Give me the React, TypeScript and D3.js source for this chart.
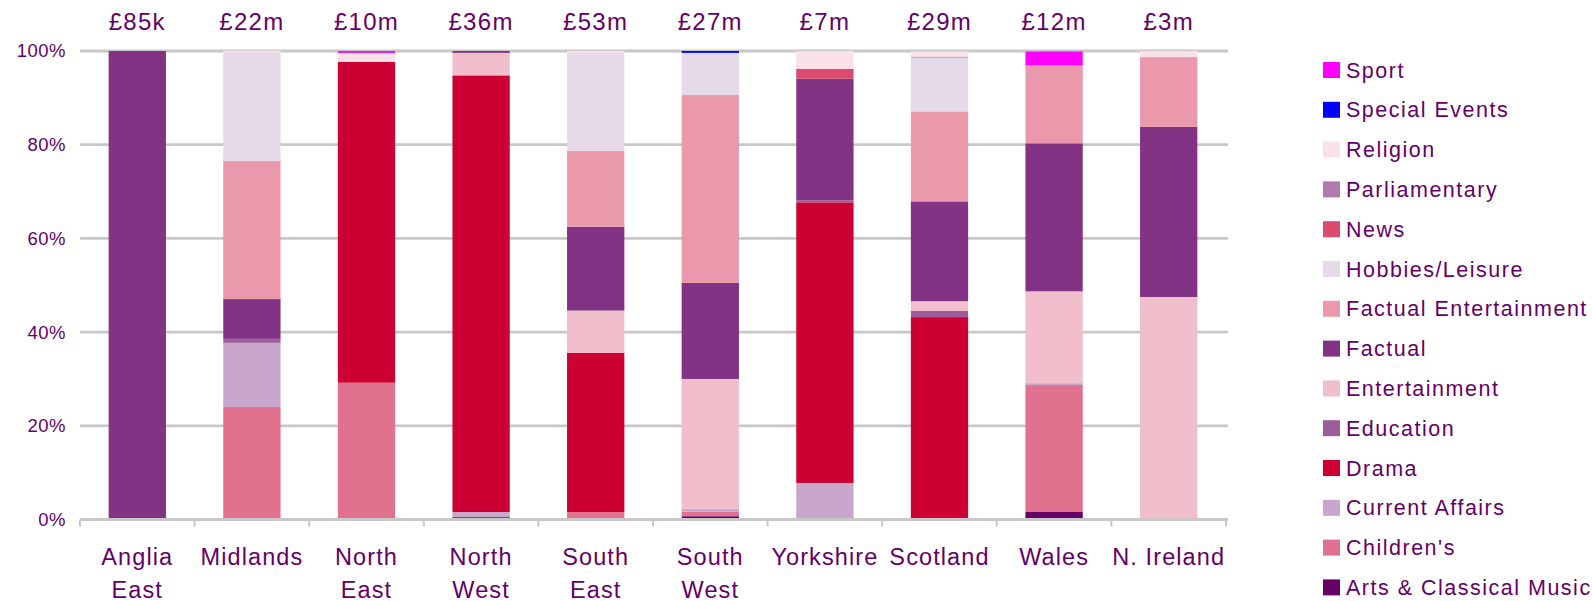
import React from 'react';
import * as d3 from 'd3';

// regions along the x axis, with their spend totals shown above each bar
const regions = ['Anglia East', 'Midlands', 'North East', 'North West', 'South East', 'South West', 'Yorkshire', 'Scotland', 'Wales', 'N. Ireland'];
const regionLines = [['Anglia', 'East'], ['Midlands'], ['North', 'East'], ['North', 'West'], ['South', 'East'], ['South', 'West'], ['Yorkshire'], ['Scotland'], ['Wales'], ['N. Ireland']];
const totals = ['£85k', '£22m', '£10m', '£36m', '£53m', '£27m', '£7m', '£29m', '£12m', '£3m'];

// genres, bottom of the stack first
const genres = ['Arts & Classical Music', "Children's", 'Current Affairs', 'Drama', 'Education', 'Entertainment', 'Factual', 'Factual Entertainment', 'Hobbies/Leisure', 'News', 'Parliamentary', 'Religion', 'Special Events', 'Sport'];
const genreColors = ['#660066', '#E0718F', '#C9A6CB', '#CC0033', '#9C5C9C', '#F0BFCB', '#833383', '#E999AB', '#E6D9E8', '#DC4A6E', '#B07CB0', '#F9E1E8', '#0000FF', '#FF00FF'];

// share of spend (%) per region, one array per genre
const arts = [0, 0, 0, 0.5, 0, 0.7, 0, 0, 1.6, 0];
const childrens = [0, 24.0, 29.2, 0, 1.6, 1.0, 0, 0, 27.1, 0];
const currentAffairs = [0, 13.7, 0, 1.1, 0, 0.6, 7.8, 0, 0.4, 0];
const drama = [0, 0, 68.5, 93.2, 34.0, 0, 59.9, 43.2, 0, 0];
const education = [0, 0.85, 0, 0, 0, 0, 0.4, 1.3, 0, 0];
const entertainment = [0, 0, 0, 4.8, 9.0, 27.7, 0, 2.1, 19.6, 47.5];
const factual = [100, 8.5, 0, 0.4, 17.9, 20.5, 26.0, 21.3, 31.6, 36.3];
const factualEnt = [0, 29.5, 0, 0, 16.2, 40.1, 0, 19.2, 16.6, 14.9];
const hobbies = [0, 23.1, 0, 0, 20.9, 9.0, 0, 11.5, 0, 0];
const news = [0, 0, 0, 0, 0, 0, 2.1, 0, 0, 0];
const parliamentary = [0, 0, 0, 0, 0, 0, 0, 0.2, 0, 0];
const religion = [0, 0.4, 1.9, 0, 0.4, 0, 3.8, 1.1, 0, 1.3];
const specialEvents = [0, 0, 0, 0, 0, 0.4, 0, 0, 0, 0];
const sport = [0, 0, 0.4, 0, 0, 0, 0, 0, 3.0, 0];

const seriesValues = [arts, childrens, currentAffairs, drama, education, entertainment, factual, factualEnt, hobbies, news, parliamentary, religion, specialEvents, sport];

const yTicks = [0, 20, 40, 60, 80, 100];

const width = 1592;
const height = 601;
const textColor = '#660066';
const gridColor = '#C8C8C8';
const font = "Arial, 'Liberation Sans', sans-serif";

const App = () => {
    const rows = regions.map((r, i) => {
        const row: any = { region: r };
        genres.forEach((g, k) => { row[g] = seriesValues[k][i]; });
        return row;
    });
    const stacked = d3.stack().keys(genres)(rows);

    const x = d3.scaleBand().domain(regions).range([80, 1226]).paddingInner(0.5).paddingOuter(0.25);
    const y = d3.scaleLinear().domain([0, 100]).range([519.5, 51]);
    const step = x.step();
    const boundaries = d3.range(regions.length + 1).map(i => 80 + i * step);

    const legendItems = genres.map((g, k) => ({ g, c: genreColors[k] })).reverse();

    return (
        <svg width={width} height={height} style={{ position: 'absolute', left: 0, top: 0, display: 'block' }} fontFamily={font}>
            <rect width={width} height={height} fill="#fff" />
            {/* gridlines */}
            {yTicks.filter(t => t > 0).map(t => (
                <line key={t} x1={80} x2={1228} y1={y(t)} y2={y(t)} stroke={gridColor} strokeWidth={2.8} />
            ))}
            {/* y labels */}
            {yTicks.map(t => (
                <text key={'l' + t} x={66} y={y(t)} dy="0.35em" textAnchor="end" fill={textColor} fontSize={18.5} letterSpacing={0.5}>{t + '%'}</text>
            ))}
            {/* bars */}
            {stacked.map((s, k) => (
                <g key={s.key} fill={genreColors[k]}>
                    {s.map((d, i) => d[1] - d[0] > 0 ? (
                        <rect key={i} x={x(regions[i])} width={x.bandwidth()} y={y(d[1])} height={y(d[0]) - y(d[1])} />
                    ) : null)}
                </g>
            ))}
            {/* x axis */}
            <line x1={80} x2={1228} y1={y(0)} y2={y(0)} stroke={gridColor} strokeWidth={2.8} />
            {boundaries.map((b, i) => (
                <line key={'t' + i} x1={b} x2={b} y1={y(0)} y2={y(0) + 7} stroke={gridColor} strokeWidth={2} />
            ))}
            {/* category labels */}
            {regionLines.map((lines, i) => (
                <text key={'c' + i} x={x(regions[i])! + x.bandwidth() / 2} y={565} textAnchor="middle" fill={textColor} fontSize={23.5} letterSpacing={1.1}>
                    {lines.map((l, j) => <tspan key={j} x={x(regions[i])! + x.bandwidth() / 2} y={565 + j * 33}>{l}</tspan>)}
                </text>
            ))}
            {/* totals */}
            {totals.map((t, i) => (
                <text key={'v' + i} x={x(regions[i])! + x.bandwidth() / 2} y={30} textAnchor="middle" fill={textColor} fontSize={24} letterSpacing={1.3}>{t}</text>
            ))}
            {/* legend */}
            {legendItems.map((d, i) => (
                <g key={d.g} transform={`translate(1323, ${70 + i * 39.8})`}>
                    <rect x={0} y={-8} width={17} height={16} fill={d.c} />
                    <text x={23} y={0} dy="0.35em" fill={textColor} fontSize={21.5} letterSpacing={1.5}>{d.g}</text>
                </g>
            ))}
        </svg>
    );
};

export default App;
